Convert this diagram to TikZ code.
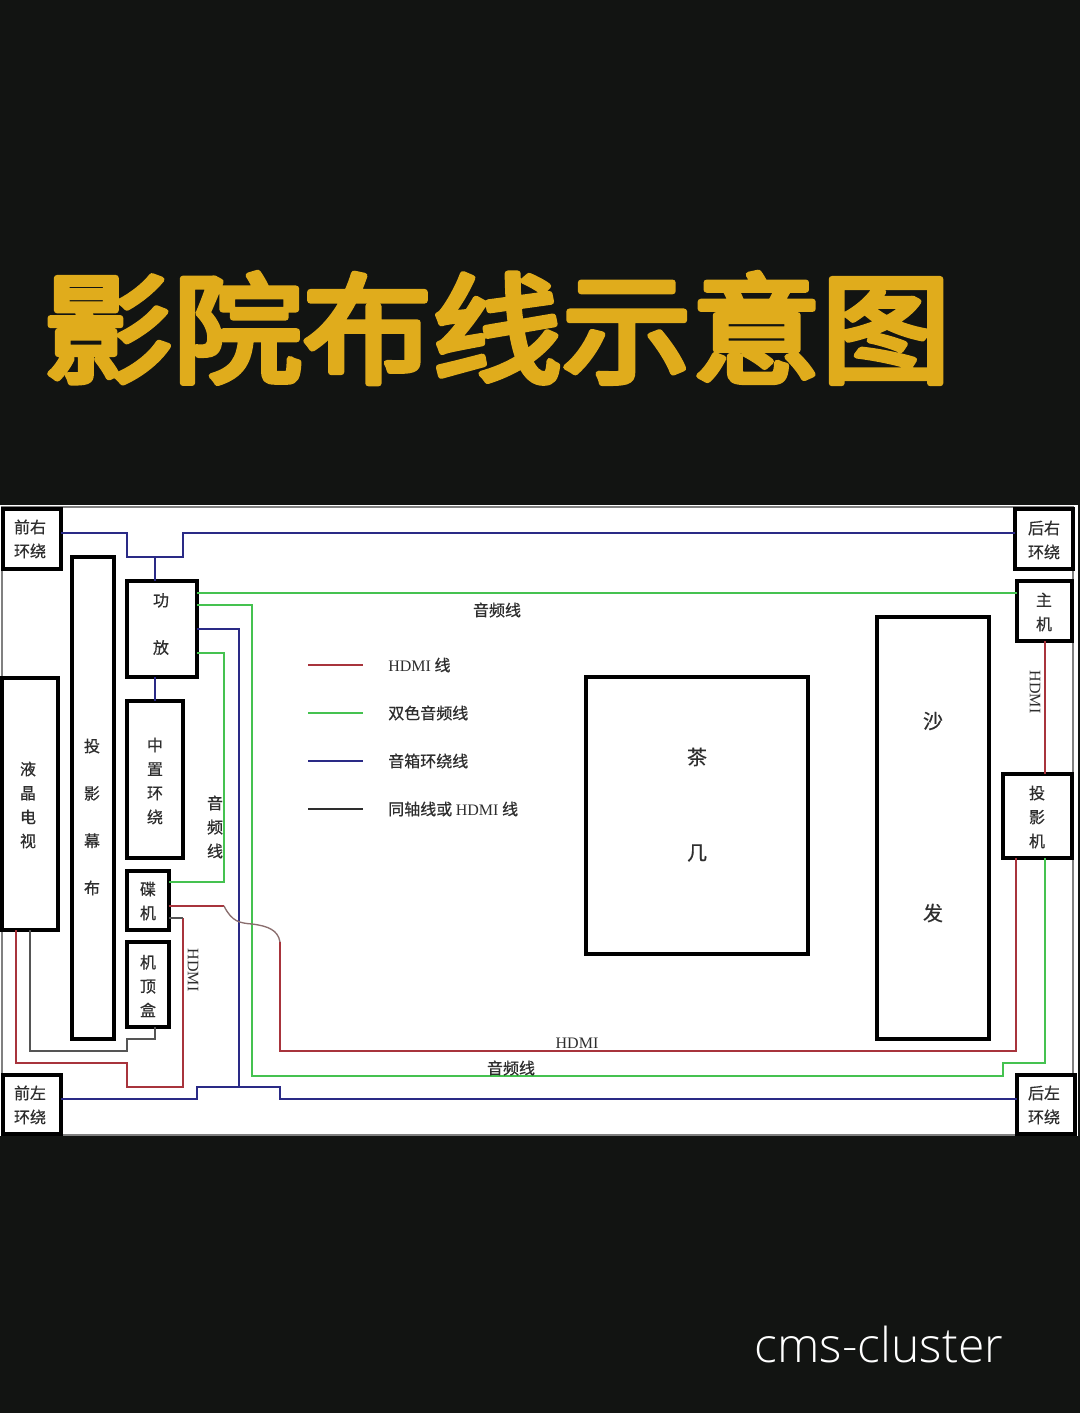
\documentclass[tikz,border=0pt]{standalone}
\usepackage{fontspec}
\setmainfont{Liberation Serif}
\newfontfamily\cjk[FakeBold=0.6]{Noto Sans CJK SC}
\newfontfamily\cjkbold[FakeBold=5]{Noto Sans CJK SC}
\newfontfamily\wmfont{Open Sans Light}
\definecolor{bgdark}{HTML}{121412}
\definecolor{gold}{HTML}{E0AC1C}
\definecolor{hdmired}{HTML}{A8343C}
\definecolor{audiogreen}{HTML}{45C250}
\definecolor{spkblue}{HTML}{2A2A86}
\definecolor{coax}{HTML}{555555}
\definecolor{ink}{HTML}{2E2E2E}
\definecolor{fade}{HTML}{8A6E6E}
\tikzset{
  boxn/.style={draw=black,line width=2.7pt,fill=white,inner sep=0pt,outer sep=0pt},
  wire/.style={line width=1.6pt,line join=miter},
  redw/.style={wire,draw=hdmired},
  greenw/.style={wire,draw=audiogreen},
  bluew/.style={wire,draw=spkblue},
  grayw/.style={wire,draw=coax},
  lbl/.style={inner sep=0pt,text=ink,align=center,font=\cjk\fontsize{12}{18}\selectfont},
  lblwide/.style={inner sep=0pt,text=ink,align=center,font=\cjk\fontsize{12}{35.5}\selectfont},
  lblbig/.style={inner sep=0pt,text=ink,font=\cjk\fontsize{15}{18}\selectfont},
  legendt/.style={inner sep=0pt,text=ink,anchor=west,font=\cjk\fontsize{12}{18}\selectfont},
  serifl/.style={inner sep=0pt,text=ink,font=\rmfamily\fontsize{12}{14}\selectfont},
}
\newcommand{\mybox}[5]{\node[boxn,minimum width={(#4-#2)*0.75pt},minimum height={(#5-#3)*0.75pt}] (#1) at ({(#2+#4)/2},{(#3+#5)/2}) {};}
\begin{document}
\begin{tikzpicture}[x=0.75pt,y=-0.75pt]
\useasboundingbox (0,0) rectangle (1080,1413);
\fill[bgdark] (0,0) rectangle (1080,1413);
% panel
\fill[white] (0,505) rectangle (1078,1136);
\draw[gray,line width=1.2pt] (2,507) rectangle (1073,1135);
% title
\begin{scope}[line join=round,line cap=round]
\node[inner sep=0pt,text=gold,xscale=1.013,yscale=0.93,font=\cjkbold\fontsize{96}{100}\selectfont] (title) at (497,328) {影院布线示意图};
\end{scope}
\node[inner sep=0pt,text=white,font=\wmfont\fontsize{36}{40}\selectfont] (wm) at (879,1344) {cms-cluster};
% boxes
\mybox{fr}{3}{509}{61}{569}
\mybox{screen}{72}{557}{114}{1039}
\mybox{amp}{127}{581}{197}{677}
\mybox{center}{127}{701}{183}{858}
\mybox{tv}{2}{678}{58}{930}
\mybox{disc}{127}{871}{169}{930}
\mybox{stb}{127}{942}{169}{1027}
\mybox{fl}{3}{1075}{61}{1134}
\mybox{rr}{1015}{509}{1073}{569}
\mybox{host}{1017}{581}{1072}{641}
\mybox{proj}{1003}{774}{1072}{858}
\mybox{sofa}{877}{617}{989}{1039}
\mybox{table}{586}{677}{808}{954}
\mybox{rl}{1017}{1075}{1075}{1134}
% junctions
\coordinate (jtop) at (155,557);
\coordinate (jbot) at (239,1087);
% blue
\draw[bluew] (fr.east |- 0,533) -- (127,533) -- (127,557) -- (183,557) -- (183,533) -- (rr.west |- 0,533);
\draw[bluew] (jtop) -- (jtop |- amp.north);
\draw[bluew] (jtop |- amp.south) -- (jtop |- center.north);
\draw[bluew] (amp.east |- 0,629) -- (239,629) -- (jbot);
\draw[bluew] (fl.east |- 0,1099) -- (197,1099) -- (197,1087) -- (280,1087) -- (280,1099) -- (rl.west |- 0,1099);
% green
\draw[greenw] (amp.east |- 0,593) -- (host.west |- 0,593);
\draw[greenw] (amp.east |- 0,605) -- (252,605) -- (252,1076) -- (1003,1076) -- (1003,1063) -- (1045,1063) -- (1045,0 |- proj.south);
\draw[greenw] (amp.east |- 0,653) -- (224,653) -- (224,882) -- (disc.east |- 0,882);
% red
\draw[redw] (disc.east |- 0,906) -- (224,906);
\draw[line width=1pt,draw=fade] (224,906) .. controls (232,922) and (240,923) .. (252,924) .. controls (268,926) and (278,930) .. (280,942);
\draw[redw] (280,942) -- (280,1051) -- (1016,1051) -- (1016,0 |- proj.south);
\draw[redw] (16,0 |- tv.south) -- (16,1063) -- (127,1063) -- (127,1087) -- (183,1087) -- (183,918);
\draw[grayw] (183,918) -- (disc.east |- 0,918);
\draw[redw] (1045,0 |- host.south) -- (1045,0 |- proj.north);
% gray
\draw[grayw] (30,0 |- tv.south) -- (30,1051) -- (127,1051) -- (127,1039) -- (155,1039) -- (155,0 |- stb.south);
% legend lines
\coordinate (l1a) at (308,665); \coordinate (l1b) at (363,665);
\coordinate (l2a) at (308,713); \coordinate (l2b) at (363,713);
\coordinate (l3a) at (308,761); \coordinate (l3b) at (363,761);
\coordinate (l4a) at (308,809); \coordinate (l4b) at (363,809);
\draw[redw] (l1a) -- (l1b);
\draw[greenw] (l2a) -- (l2b);
\draw[bluew] (l3a) -- (l3b);
\draw[wire,draw=ink] (l4a) -- (l4b);
\node[legendt] (lt1) at (388,665) {{\rmfamily HDMI} 线};
\node[legendt] (lt2) at (388,713) {双色音频线};
\node[legendt] (lt3) at (388,761) {音箱环绕线};
\node[legendt] (lt4) at (388,809) {同轴线或 {\rmfamily HDMI} 线};
% labels
\node[lbl] (t1) at (30,539) {前右\\环绕};
\node[lbl] (t2) at (30,1105) {前左\\环绕};
\node[lbl] (t3) at (1044,540) {后右\\环绕};
\node[lbl] (t4) at (1044,1105) {后左\\环绕};
\node[lbl] (t5) at (1044,612) {主\\机};
\node[lbl] (t6) at (1037,817) {投\\影\\机};
\node[lbl] (t7) at (28,805) {液\\晶\\电\\视};
\node[lblwide] (t8) at (92,817) {投\\影\\幕\\布};
\node[lblwide] (t9) at (161,624) {功\\放};
\node[lbl] (t10) at (155,781) {中\\置\\环\\绕};
\node[lbl] (t11) at (215,827) {音\\频\\线};
\node[lbl] (t12) at (148,901) {碟\\机};
\node[lbl] (t13) at (148,986) {机\\顶\\盒};
\node[lblbig] (t14) at (933,721) {沙};
\node[lblbig] (t15) at (933,913) {发};
\node[lblbig] (t16) at (697,757) {茶};
\node[lblbig] (t17) at (697,853) {几};
\node[lbl] (t18) at (497,610) {音频线};
\node[lbl] (t19) at (511,1068) {音频线};
\node[serifl] (t20) at (577,1043) {HDMI};
\node[serifl,rotate=-90] (t21) at (193,970) {HDMI};
\node[serifl,rotate=-90] (t22) at (1035,692) {HDMI};
\end{tikzpicture}
\end{document}
